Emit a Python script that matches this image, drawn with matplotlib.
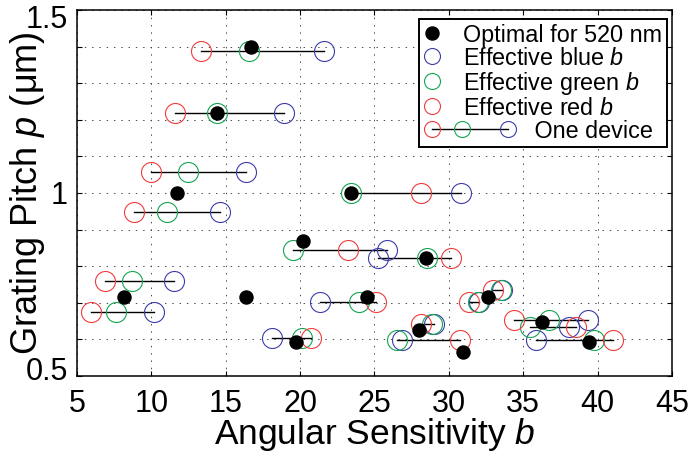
import numpy as np
import matplotlib.pyplot as plt
import matplotlib.transforms as mtransforms
from matplotlib.lines import Line2D
from matplotlib.legend_handler import HandlerBase

plt.rcParams['font.family'] = ['Liberation Sans', 'DejaVu Sans']
plt.rcParams['mathtext.fontset'] = 'custom'
plt.rcParams['mathtext.rm'] = 'Liberation Sans'
plt.rcParams['mathtext.it'] = 'Liberation Sans:italic'

# optimal (b, p) for 520 nm
opt_b = [16.67, 14.39, 11.70, 23.41, 20.21, 28.48, 8.16, 16.34, 24.47, 32.64,
         19.70, 27.98, 30.96, 36.23, 39.43]
opt_p = [1.400, 1.218, 1.000, 1.000, 0.870, 0.822, 0.717, 0.717, 0.717, 0.717,
         0.594, 0.626, 0.565, 0.647, 0.594]

# one device per row: pitch and effective b for blue / green / red
dev_p = [1.388, 1.218, 1.057, 1.000, 0.948, 0.844, 0.823, 0.760, 0.674,
         0.703, 0.603, 0.598, 0.643, 0.703, 0.734, 0.653, 0.633, 0.598]
blue_b = [21.62, 18.91, 16.36, 30.80, 14.61, 25.85, 25.25, 11.54, 10.17,
          21.33, 18.08, 26.82, 29.00, 32.00, 33.55, 39.37, 38.08, 35.83]
green_b = [16.56, 14.39, 12.48, 23.41, 11.07, 19.54, 28.54, 8.67, 7.60,
           23.95, 20.10, 26.53, 28.90, 31.97, 33.49, 36.73, 35.44, 39.77]
red_b = [13.33, 11.59, 9.95, 28.10, 8.83, 23.23, 30.13, 6.88, 5.94,
         25.07, 20.73, 30.74, 28.12, 31.34, 32.98, 34.38, 38.58, 41.04]

c_blue = '#3c3caa'
c_green = '#14a550'
c_red = '#f03c3c'
ms_circ = 14.4


class DeviceHandler(HandlerBase):
    def create_artists(self, legend, orig_handle, xdescent, ydescent,
                       width, height, fontsize, trans):
        y = height / 2 - ydescent
        x0 = width / 2 - xdescent
        xs = [x0, x0 + 1.29 * fontsize, x0 + 3.26 * fontsize]
        line = Line2D([xs[0], xs[2]], [y, y], color='k', lw=1, transform=trans)
        arts = [line]
        for x, c in zip(xs, [c_red, c_green, c_blue]):
            arts.append(Line2D([x], [y], marker='o', ls='none', ms=11.5,
                               mfc='none', mec=c, mew=0.8, transform=trans))
        return arts


fig = plt.figure(figsize=(6.96, 4.54), dpi=100)
ax = fig.add_axes([0.1106, 0.1718, 0.8549, 0.8062])

for p, bb, gb, rb in zip(dev_p, blue_b, green_b, red_b):
    vals = [bb, gb, rb]
    ax.plot([min(vals), max(vals)], [p, p], color='k', lw=1, zorder=2)
ax.plot(blue_b, dev_p, 'o', ms=ms_circ, mfc='none', mec=c_blue, mew=0.8, zorder=3)
ax.plot(green_b, dev_p, 'o', ms=ms_circ, mfc='none', mec=c_green, mew=0.8, zorder=3)
ax.plot(red_b, dev_p, 'o', ms=ms_circ, mfc='none', mec=c_red, mew=0.8, zorder=3)
ax.plot(opt_b, opt_p, 'o', ms=9.4, color='k', zorder=4)

ax.set_xlim(5, 45)
ax.set_ylim(0.5, 1.5)
ax.set_xticks(np.arange(5, 46, 5))
yt = np.round(np.arange(0.5, 1.51, 0.1), 1)
ax.set_yticks(yt)
ax.set_yticklabels(['0.5' if v == 0.5 else '1' if v == 1.0 else '1.5' if v == 1.5 else '' for v in yt])
ax.grid(True, color='0.3', lw=0.7, ls=(0, (1.5, 6)))
ax.tick_params(direction='in', length=3.6, width=0.8, top=True, right=True,
               labelsize=22)
ax.tick_params(axis='x', pad=9)
ax.tick_params(axis='y', pad=6.5)
for s in ax.spines.values():
    s.set_linewidth(1.1)

# matlab pulls the end labels inward
labs = ax.get_yticklabels()
labs[0].set_transform(labs[0].get_transform() +
                      mtransforms.ScaledTranslation(0, 0.08, fig.dpi_scale_trans))
labs[-1].set_transform(labs[-1].get_transform() +
                       mtransforms.ScaledTranslation(0, -0.07, fig.dpi_scale_trans))

ax.set_xlabel('Angular Sensitivity $b$', fontsize=25.5, labelpad=-2)
ax.set_ylabel('Grating Pitch $p$ (μm)', fontsize=26)
ax.yaxis.set_label_coords(-0.0504, 0.5)

h_opt = Line2D([], [], marker='o', ls='none', color='k', ms=9.4)
h_b = Line2D([], [], marker='o', ls='none', ms=11.5, mfc='none', mec=c_blue, mew=0.8)
h_g = Line2D([], [], marker='o', ls='none', ms=11.5, mfc='none', mec=c_green, mew=0.8)
h_r = Line2D([], [], marker='o', ls='none', ms=11.5, mfc='none', mec=c_red, mew=0.8)
h_dev = object()
leg = ax.legend([h_opt, h_b, h_g, h_r, h_dev],
                ['Optimal for 520 nm', 'Effective blue $b$', 'Effective green $b$',
                 'Effective red $b$', '           One device'],
                handler_map={h_dev: DeviceHandler()},
                loc='upper right', bbox_to_anchor=(0.9916, 0.9754),
                borderaxespad=0, fontsize=16.8, labelspacing=0.0, borderpad=0.2,
                handlelength=0.7, handletextpad=1.0, fancybox=False,
                framealpha=1, edgecolor='k')
leg.get_frame().set_linewidth(1.4)

fig.savefig('out.png', dpi=100)
